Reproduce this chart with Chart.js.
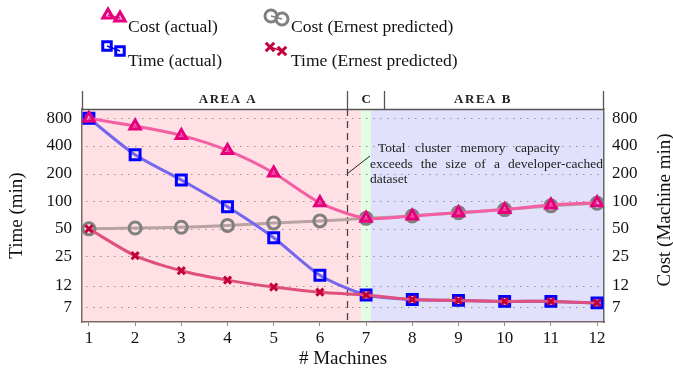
<!DOCTYPE html>
<html>
<head>
<meta charset="utf-8">
<script src="https://cdn.jsdelivr.net/npm/chart.js@4/dist/chart.umd.min.js"></script>
<style>
  html, body { margin: 0; padding: 0; background: #ffffff; }
  #wrap { width: 673px; height: 370px; position: relative; }
</style>
</head>
<body>
<div id="wrap"><canvas id="machinesChart"></canvas></div>
<script>
// values
const machines = [1, 2, 3, 4, 5, 6, 7, 8, 9, 10, 11, 12];
const costActual = [800, 659, 521, 357, 203, 96, 65, 69, 75, 81, 91, 96];
const timeActual = [800, 320, 170, 87, 40, 15.6, 9.5, 8.5, 8.3, 8.1, 8.1, 7.8];
const costPredicted = [50, 51, 52, 54.5, 58, 61, 65, 69, 75, 81, 89, 95];
const timePredicted = [50, 25.5, 17.5, 13.8, 11.6, 10.2, 9.5, 8.5, 8.3, 8.1, 8.1, 7.8];
const yTicks = [7, 12, 25, 50, 100, 200, 400, 800];
const areaLabels = ['AREA A', 'C', 'AREA B'];
const memoryNote = ['Total cluster memory capacity', 'exceeds the size of a developer-cached', 'dataset'];

const SERIF = "'Liberation Serif', 'DejaVu Serif', serif";
const AXIS_COLOR = '#7a6868';

// split between areas (in machine units)
const areaSplit = { dash: 6.58, greenFrom: 6.9, greenTo: 7.1, bLabel: 7.39 };

const series = [
  { label: 'Time (Ernest predicted)', data: timePredicted, line: '#e0507c', mark: '#c4003a', style: 'crossRot', r: 5, fill: 'transparent', order: 0 },
  { label: 'Cost (actual)', data: costActual, line: '#f45fa3', mark: '#e6007e', style: 'triangle', r: 6, fill: 'rgba(230,0,126,0.25)', order: 1 },
  { label: 'Time (actual)', data: timeActual, line: '#7466ee', mark: '#0000ff', style: 'rect', r: 7, fill: 'transparent', order: 2 },
  { label: 'Cost (Ernest predicted)', data: costPredicted, line: '#b8a2a2', mark: '#808080', style: 'circle', r: 6, fill: 'transparent', order: 3 }
];

function drawMark(ctx, s, x, y, r) {
  ctx.save();
  ctx.strokeStyle = s.mark;
  ctx.fillStyle = s.fill;
  ctx.lineWidth = 3;
  Chart.helpers.drawPoint(ctx, { pointStyle: s.style, radius: r, borderWidth: 3, rotation: 0 }, x, y);
  ctx.restore();
}

const decorations = {
  id: 'decorations',
  beforeDraw(chart) {
    const { ctx, chartArea: a, scales: { x } } = chart;
    const g1 = x.getPixelForValue(areaSplit.greenFrom);
    const g2 = x.getPixelForValue(areaSplit.greenTo);
    ctx.save();
    ctx.fillStyle = '#ffe1e5';
    ctx.fillRect(a.left, a.top, g1 - a.left, a.bottom - a.top);
    ctx.fillStyle = '#e2fde2';
    ctx.fillRect(g1, a.top, g2 - g1, a.bottom - a.top);
    ctx.fillStyle = '#e1e1fc';
    ctx.fillRect(g2, a.top, a.right - g2, a.bottom - a.top);
    ctx.restore();
  },
  beforeDatasetsDraw(chart) {
    const { ctx, chartArea: a, scales: { x, y } } = chart;
    ctx.save();
    // dotted grid on the tick values
    ctx.strokeStyle = '#9a9090';
    ctx.lineWidth = 1;
    ctx.setLineDash([1.5, 5.5]);
    yTicks.forEach(v => {
      const py = Math.round(y.getPixelForValue(v)) + 0.5;
      ctx.beginPath();
      ctx.moveTo(a.left + 4, py);
      ctx.lineTo(a.right, py);
      ctx.stroke();
    });
    const dx = Math.round(x.getPixelForValue(areaSplit.dash)) + 0.5;
    ctx.strokeStyle = '#444';
    ctx.lineWidth = 1.3;
    ctx.setLineDash([7, 5]);
    ctx.beginPath();
    ctx.moveTo(dx, a.top);
    ctx.lineTo(dx, a.bottom);
    ctx.stroke();
    ctx.restore();
  },
  afterDraw(chart) {
    const { ctx, chartArea: a, scales: { x } } = chart;
    ctx.save();

    // top band with area names
    const dx = Math.round(x.getPixelForValue(areaSplit.dash)) + 0.5;
    const bx = Math.round(x.getPixelForValue(areaSplit.bLabel)) + 0.5;
    const bandTop = a.top - 18;
    ctx.strokeStyle = '#555';
    ctx.lineWidth = 1.3;
    ctx.beginPath();
    ctx.moveTo(a.left, a.top + 0.5);
    ctx.lineTo(a.right, a.top + 0.5);
    [a.left + 0.5, dx, bx, a.right - 0.5].forEach(px => {
      ctx.moveTo(px, bandTop);
      ctx.lineTo(px, a.top);
    });
    ctx.stroke();

    ctx.fillStyle = '#222';
    ctx.font = 'bold 13px ' + SERIF;
    ctx.letterSpacing = '1.5px';
    ctx.textAlign = 'center';
    ctx.textBaseline = 'middle';
    ctx.fillText(areaLabels[0], 228, bandTop + 9);
    ctx.fillText(areaLabels[1], (dx + bx) / 2 + 1, bandTop + 9);
    ctx.fillText(areaLabels[2], 483, bandTop + 9);
    ctx.letterSpacing = '0px';

    // note about cluster memory, justified lines
    ctx.font = '13.5px ' + SERIF;
    ctx.textAlign = 'left';
    ctx.fillStyle = '#222';
    const lines = [
      { text: memoryNote[0], x0: 378, x1: 560, y: 148.5 },
      { text: memoryNote[1], x0: 370, x1: 603, y: 164 },
      { text: memoryNote[2], x0: 370, x1: null, y: 179 }
    ];
    lines.forEach(l => {
      if (l.x1 === null) { ctx.fillText(l.text, l.x0, l.y); return; }
      const words = l.text.split(' ');
      const wsum = words.reduce((s, w) => s + ctx.measureText(w).width, 0);
      const gap = (l.x1 - l.x0 - wsum) / (words.length - 1);
      let cx = l.x0;
      words.forEach(w => { ctx.fillText(w, cx, l.y); cx += ctx.measureText(w).width + gap; });
    });
    ctx.strokeStyle = '#222';
    ctx.lineWidth = 1;
    ctx.beginPath();
    ctx.moveTo(370, 156);
    ctx.lineTo(dx, 173.5);
    ctx.stroke();

    // right axis title, reading upward
    ctx.save();
    ctx.translate(665, 210);
    ctx.rotate(-Math.PI / 2);
    ctx.font = '19px ' + SERIF;
    ctx.textAlign = 'center';
    ctx.textBaseline = 'middle';
    ctx.fillStyle = '#111';
    ctx.fillText('Cost (Machine min)', 0, 0);
    ctx.restore();

    // legend
    const byLabel = l => series.find(s => s.label === l);
    const legend = [
      { s: byLabel('Cost (actual)'), m1: [108, 15], m2: [120, 18], tx: 128, ty: 27 },
      { s: byLabel('Time (actual)'), m1: [107, 46], m2: [120, 51], tx: 128, ty: 61 },
      { s: byLabel('Cost (Ernest predicted)'), m1: [271, 16], m2: [282, 19], tx: 291, ty: 27 },
      { s: byLabel('Time (Ernest predicted)'), m1: [270, 47], m2: [282, 51], tx: 291, ty: 61 }
    ];
    legend.forEach(it => {
      ctx.strokeStyle = it.s.mark;
      ctx.lineWidth = 1.5;
      ctx.beginPath();
      ctx.moveTo(it.m1[0], it.m1[1]);
      ctx.lineTo(it.m2[0], it.m2[1]);
      ctx.stroke();
      drawMark(ctx, it.s, it.m1[0], it.m1[1], 6);
      drawMark(ctx, it.s, it.m2[0], it.m2[1], 6);
      ctx.fillStyle = '#111';
      ctx.font = '17.5px ' + SERIF;
      ctx.textAlign = 'left';
      ctx.textBaseline = 'middle';
      ctx.fillText(it.s.label, it.tx, it.ty);
    });
    ctx.restore();
  }
};

const ctx = document.getElementById('machinesChart').getContext('2d');

const machinesChart = new Chart(ctx, {
  type: 'line',
  data: {
    labels: machines,
    datasets: series.map(s => ({
      label: s.label,
      data: machines.map((m, i) => ({ x: m, y: s.data[i] })),
      borderColor: s.line,
      borderWidth: 3,
      tension: 0.25,
      fill: false,
      pointStyle: s.style,
      pointRadius: s.r,
      pointBorderWidth: 3,
      pointBorderColor: s.mark,
      pointBackgroundColor: s.fill,
      order: s.order,
      yAxisID: 'y'
    }))
  },
  options: {
    responsive: true,
    maintainAspectRatio: false,
    animation: false,
    layout: { padding: { top: 109, left: 0, right: 0, bottom: 0 } },
    plugins: {
      legend: { display: false },
      tooltip: { enabled: false }
    },
    scales: {
      x: {
        type: 'linear',
        min: 0.85,
        max: 12.15,
        afterBuildTicks: (s) => { s.ticks = machines.map(v => ({ value: v })); },
        afterFit: (s) => { s.height = 48; },
        ticks: {
          color: '#111',
          font: { family: SERIF, size: 17 },
          padding: 2,
          maxRotation: 0
        },
        grid: { drawOnChartArea: false, drawTicks: true, tickLength: 4, color: '#888' },
        border: { color: AXIS_COLOR, width: 1.5 },
        title: {
          display: true,
          text: '# Machines',
          color: '#111',
          font: { family: SERIF, size: 19 },
          padding: { top: 0, bottom: 0 }
        }
      },
      y: {
        type: 'logarithmic',
        position: 'left',
        min: 4.83,
        max: 1010,
        afterBuildTicks: (s) => { s.ticks = yTicks.map(v => ({ value: v })); },
        afterFit: (s) => { s.width = 82; },
        ticks: {
          color: '#111',
          font: { family: SERIF, size: 17 },
          padding: 10,
          callback: (v) => String(v)
        },
        grid: { drawOnChartArea: false, drawTicks: false },
        border: { color: AXIS_COLOR, width: 1.5 },
        title: {
          display: true,
          text: 'Time (min)',
          color: '#111',
          font: { family: SERIF, size: 19 },
          padding: { top: 6, bottom: 0 }
        }
      },
      y1: {
        type: 'logarithmic',
        position: 'right',
        min: 4.83,
        max: 1010,
        afterBuildTicks: (s) => { s.ticks = yTicks.map(v => ({ value: v })); },
        afterFit: (s) => { s.width = 69; },
        ticks: {
          color: '#111',
          font: { family: SERIF, size: 17 },
          padding: 8,
          callback: (v) => String(v)
        },
        grid: { drawOnChartArea: false, drawTicks: false },
        border: { color: '#666', width: 1.5 }
      }
    }
  },
  plugins: [decorations]
});
</script>
</body>
</html>
